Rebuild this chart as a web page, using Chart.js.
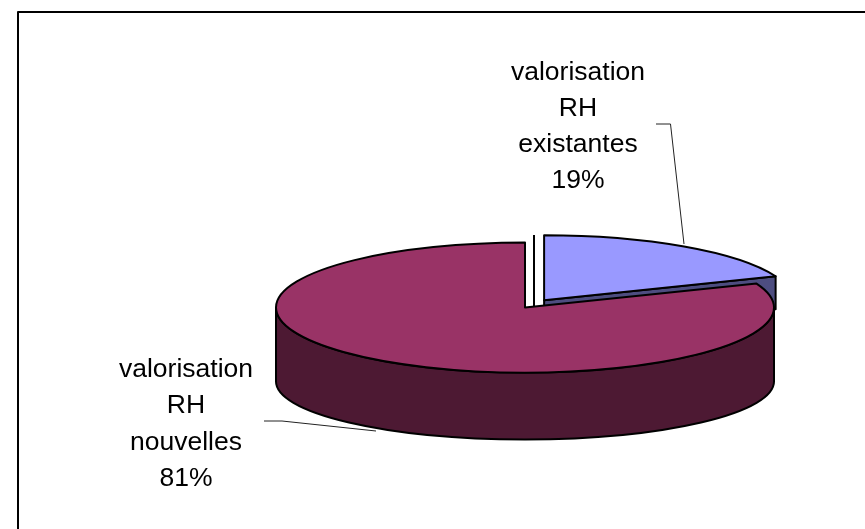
<!DOCTYPE html>
<html lang="fr">
<head>
    <meta charset="UTF-8">
    <title>Valorisation RH</title>
    <script src="https://cdn.jsdelivr.net/npm/chart.js"></script>
    <style>
        html, body { margin: 0; padding: 0; background: #fff; }
        canvas { display: block; }
    </style>
</head>
<body>
    <canvas id="camembert" width="865" height="529"></canvas>

<script>
// donnees
var categories = [
  ['valorisation', 'RH', 'existantes'],
  ['valorisation', 'RH', 'nouvelles']
];
var valeurs = [19, 81];
var couleurs = ['#9999FF', '#993366'];
var couleursCote = ['#4D4D80', '#4D1933'];

// geometrie du faux 3D
var centreX = 525, centreY = 307.5;
var rayon = 249, rayonY = 65;
var bas = { dy: 74, ry: 58 };
var ecart = 34;
var epaisseurBleu = 33;

function centreTranche(arc, ecartPx) {
  var mid = (arc.startAngle + arc.endAngle) / 2;
  return {
    x: centreX + Math.cos(mid) * ecartPx,
    y: centreY + Math.sin(mid) * ecartPx * rayonY / rayon
  };
}

function trait(ctx, points, largeur, couleur) {
  ctx.beginPath();
  ctx.moveTo(points[0][0], points[0][1]);
  for (var i = 1; i < points.length; i++) ctx.lineTo(points[i][0], points[i][1]);
  ctx.lineWidth = largeur;
  ctx.strokeStyle = couleur;
  ctx.stroke();
}

function dessus(ctx, arc, c, couleur) {
  var ry = arc.outerRadius * rayonY / rayon;
  ctx.beginPath();
  ctx.moveTo(c.x, c.y);
  ctx.ellipse(c.x, c.y, arc.outerRadius, ry, 0, arc.startAngle, arc.endAngle);
  ctx.closePath();
  ctx.fillStyle = couleur;
  ctx.fill();
  ctx.lineWidth = 2;
  ctx.strokeStyle = '#000';
  ctx.stroke();
}

function texte(ctx, lignes, x, baselines) {
  ctx.font = '26.5px "Liberation Sans", Arial, sans-serif';
  ctx.fillStyle = '#000';
  ctx.textAlign = 'center';
  ctx.textBaseline = 'alphabetic';
  for (var i = 0; i < lignes.length; i++) ctx.fillText(lignes[i], x, baselines[i]);
}

var pie3d = {
  id: 'pie3d',
  beforeDatasetsDraw: function (chart) {
    var ctx = chart.ctx;
    var arcs = chart.getDatasetMeta(0).data;
    var bleu = arcs[0], rouge = arcs[1];
    var cBleu = centreTranche(bleu, ecart);
    var cRouge = centreTranche(rouge, 0);
    ctx.save();
    ctx.lineJoin = 'round';

    // cadre : seulement haut et gauche
    trait(ctx, [[18, 529], [18, 12], [865, 12]], 2, '#000');

    // face coupee de la tranche bleue
    var finX = cBleu.x + Math.cos(bleu.endAngle) * bleu.outerRadius;
    var finY = cBleu.y + Math.sin(bleu.endAngle) * bleu.outerRadius * rayonY / rayon;
    ctx.beginPath();
    ctx.moveTo(cBleu.x, cBleu.y);
    ctx.lineTo(finX, finY);
    ctx.lineTo(finX, finY + epaisseurBleu);
    ctx.lineTo(cBleu.x, cBleu.y + epaisseurBleu);
    ctx.closePath();
    ctx.fillStyle = couleursCote[0];
    ctx.fill();
    ctx.lineWidth = 2;
    ctx.strokeStyle = '#000';
    ctx.stroke();

    // cote de la grande tranche, seulement la moitie avant
    ctx.beginPath();
    ctx.ellipse(cRouge.x, cRouge.y, rouge.outerRadius, rayonY, 0, 0, Math.PI);
    ctx.ellipse(cRouge.x, cRouge.y + bas.dy, rouge.outerRadius, bas.ry, 0, Math.PI, 0, true);
    ctx.closePath();
    ctx.fillStyle = couleursCote[1];
    ctx.fill();
    ctx.stroke();

    dessus(ctx, bleu, cBleu, couleurs[0]);
    dessus(ctx, rouge, cRouge, couleurs[1]);

    // petit trait vertical entre les deux tranches
    trait(ctx, [[534, 235], [534, 306]], 2, '#000');

    // traits de rappel
    trait(ctx, [[656, 124], [670.5, 124], [684, 244]], 1, '#222');
    trait(ctx, [[264, 421], [282, 421], [376, 431]], 1, '#222');

    texte(ctx, categories[0].concat(valeurs[0] + '%'), 578, [80, 116, 152, 188]);
    texte(ctx, categories[1].concat(valeurs[1] + '%'), 186, [377, 413, 449.5, 486]);

    ctx.restore();
    return false;
  }
};

new Chart(document.getElementById('camembert'), {
  type: 'pie',
  data: {
    labels: categories.map(function (c) { return c.join(' '); }),
    datasets: [{
      data: valeurs,
      backgroundColor: couleurs,
      borderColor: '#000',
      borderWidth: 2
    }]
  },
  options: {
    responsive: false,
    animation: false,
    radius: rayon,
    layout: { padding: 0 },
    plugins: {
      legend: { display: false },
      tooltip: { enabled: false }
    }
  },
  plugins: [pie3d]
});
</script>
</body>
</html>
